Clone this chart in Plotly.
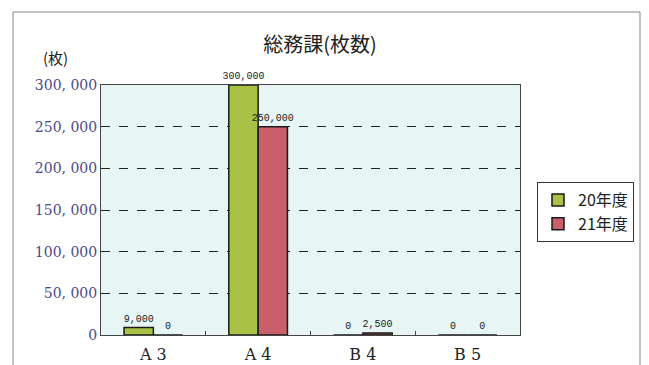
import plotly.graph_objects as go

# data
categories = ["A 3", "A 4", "B 4", "B 5"]
fy20 = [9000, 300000, 0, 0]
fy21 = [0, 250000, 2500, 0]
series_names = ["20年度", "21年度"]
ytick_vals = [0, 50000, 100000, 150000, 200000, 250000, 300000]
ytick_text = ["0", "50, 000", "100, 000", "150, 000", "200, 000", "250, 000", "300, 000"]

W, H = 649, 365
L, R, T, B = 101, 129, 85, 30

fig = go.Figure()
for name, vals, col in [(series_names[0], fy20, "#a9c245"), (series_names[1], fy21, "#c85f6b")]:
    fig.add_trace(go.Bar(
        x=categories, y=vals, name=name,
        marker=dict(color=col, line=dict(color="#1a1a1a", width=1.5)),
        text=[f"{v:,}" for v in vals], textposition="outside",
        textfont=dict(size=10, color="#222", family="Liberation Mono"),
        constraintext="none",
        cliponaxis=False,
    ))

# outer frame of the chart
fig.add_shape(type="rect", xref="paper", yref="paper",
              x0=(13 - L) / (W - L - R), x1=(640 - L) / (W - L - R),
              y0=(H - B - 380) / (H - T - B), y1=(H - B - 12) / (H - T - B),
              line=dict(color="#888", width=1), layer="below")

fig.add_annotation(text="(枚)", xref="paper", yref="paper",
                   x=(55 - L) / (W - L - R), y=(H - B - 58) / (H - T - B),
                   xanchor="center", yanchor="middle", showarrow=False,
                   font=dict(size=15, family="Noto Sans CJK JP", color="#222"))

fig.update_layout(
    width=W, height=H,
    margin=dict(l=L, r=R, t=T, b=B, autoexpand=False),
    paper_bgcolor="white",
    plot_bgcolor="#e7f6f5",
    barmode="group",
    bargap=0.44,
    bargroupgap=0,
    title=dict(text="総務課(枚数)", xref="container", yref="container",
               x=320 / W, xanchor="center", y=1 - 45 / H, yanchor="middle",
               font=dict(size=20, family="Noto Sans CJK JP", color="#222")),
    legend=dict(xref="container", yref="container",
                x=537 / W, xanchor="left", y=1 - 182 / H, yanchor="top",
                bordercolor="#333", borderwidth=1, bgcolor="white",
                font=dict(size=16, family="Noto Sans CJK JP", color="#222"),
                itemwidth=30, tracegroupgap=0),
    xaxis=dict(showline=True, linecolor="#444", linewidth=1, mirror=True,
               ticks="inside", tickson="boundaries", ticklen=4, tickcolor="#444",
               ticklabelstandoff=5,
               tickfont=dict(size=16, family="DejaVu Serif", color="#222"),
               showgrid=False, automargin=False),
    yaxis=dict(range=[0, 300000], tickvals=ytick_vals, ticktext=ytick_text,
               showline=True, linecolor="#444", linewidth=1, mirror=True,
               gridcolor="#222", griddash="dash", gridwidth=1,
               tickfont=dict(size=14, family="DejaVu Serif", color="#4a4a8c"),
               ticks="", zeroline=False, automargin=False),
)

# drop the default page margin so the figure sits at the top-left corner
fig.write_html("out.html", config={"displayModeBar": False},
               post_script="document.body.style.margin='0';")
